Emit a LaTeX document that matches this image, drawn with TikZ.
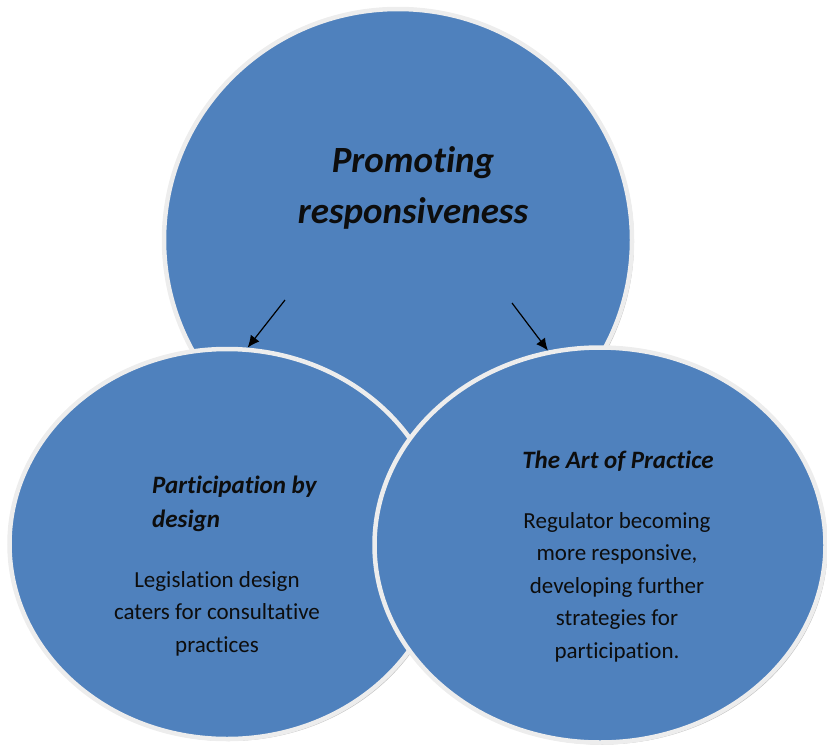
\documentclass[tikz,border=0pt]{standalone}
\usepackage{fontspec}
\setmainfont{Carlito}[RawFeature={-liga;-clig}]
\usepackage{xcolor}
\usetikzlibrary{shapes.geometric,arrows.meta,shadows}

\definecolor{bubbleblue}{HTML}{4F81BD}

\begin{document}
\begin{tikzpicture}[x=1pt, y=-1pt,
    bubble/.style={ellipse, draw=white!93!black, line width=4.5pt, fill=bubbleblue,
                   inner sep=0pt,
                   drop shadow={opacity=0.45, fill=black!55, shadow xshift=2pt, shadow yshift=-2pt}},
    headtxt/.style={font=\bfseries\itshape, text=black!95, inner sep=0pt},
    bodytxt/.style={align=center, inner sep=0pt, text=black!95},
    arr/.style={-{Latex[length=12pt, width=11pt]}, line width=1.2pt}
]
\useasboundingbox (0,0) rectangle (827,753);

% the three bubbles
\node[bubble, minimum width=468pt, minimum height=462pt] (promote) at (398,240) {};
\node[bubble, minimum width=435pt, minimum height=390pt] (design) at (227,544) {};
\node[bubble, minimum width=451pt, minimum height=395pt] (practice) at (600,545) {};

% texts (base = baseline of the last line)
\node[headtxt, align=center, anchor=base, font=\fontsize{37}{51}\selectfont\bfseries\itshape]
    (promotetxt) at (413,223) {Promoting\\responsiveness};
\node[headtxt, align=left, anchor=base west, font=\fontsize{25}{34}\selectfont\bfseries\itshape]
    (designhead) at (152,527) {Participation by\\design};
\node[bodytxt, anchor=base, font=\fontsize{23}{32.5}\selectfont]
    (designbody) at (217,652) {Legislation design\\caters for consultative\\practices};
\node[headtxt, anchor=base, font=\fontsize{25}{34}\selectfont\bfseries\itshape]
    (practicehead) at (618,468) {The Art of Practice};
\node[bodytxt, anchor=base, font=\fontsize{23}{32.5}\selectfont]
    (practicebody) at (617,658) {Regulator becoming\\more responsive,\\developing further\\strategies for\\participation.};

% arrows
\coordinate (ltail) at (285,300);
\coordinate (rtail) at (512,303);
\draw[arr] (ltail) -- (design.84);
\draw[arr] (rtail) -- (practice.105);
\end{tikzpicture}
\end{document}
